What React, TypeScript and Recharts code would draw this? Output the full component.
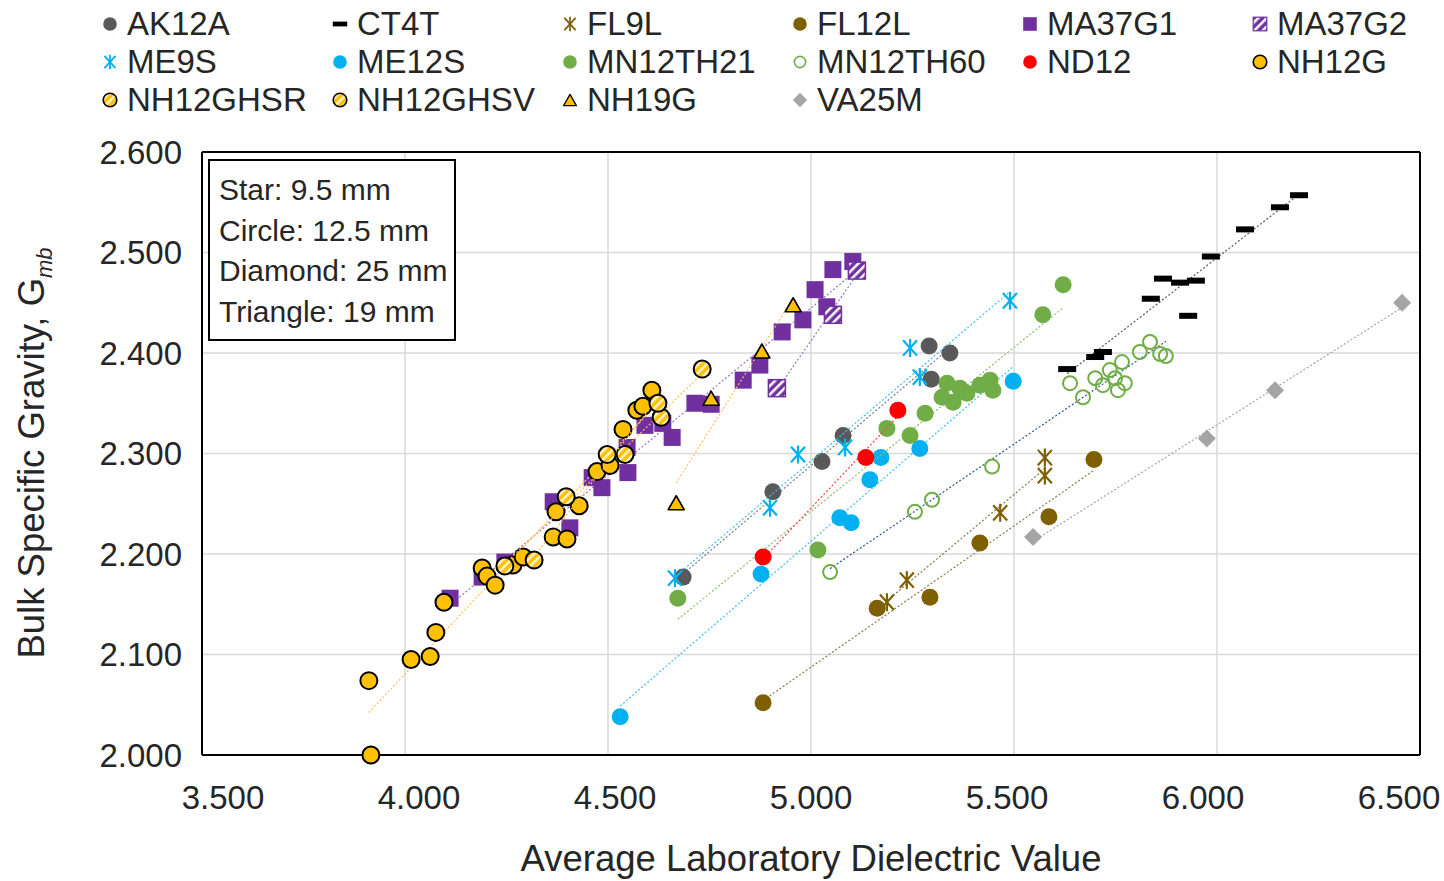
import React from 'react'
import { ScatterChart, Scatter, XAxis, YAxis, CartesianGrid, ReferenceLine } from 'recharts'

type Pt = [number, number]

const X_TICKS = [3.5, 4, 4.5, 5, 5.5, 6, 6.5]
const Y_TICKS = [2.0, 2.1, 2.2, 2.3, 2.4, 2.5, 2.6]

// [dielectric, Gmb]
const AK12A: Pt[] = [[4.685, 2.177], [4.906, 2.262], [5.027, 2.292], [5.079, 2.318], [5.291, 2.407], [5.342, 2.4], [5.296, 2.374]]
const CT4T: Pt[] = [[5.631, 2.384], [5.7, 2.396], [5.719, 2.401], [5.837, 2.454], [5.867, 2.474], [5.909, 2.47], [5.948, 2.472], [5.929, 2.437], [5.985, 2.496], [6.069, 2.523], [6.155, 2.545], [6.202, 2.557]]
const FL9L: Pt[] = [[5.187, 2.152], [5.236, 2.174], [5.466, 2.241], [5.576, 2.296], [5.576, 2.278]]
const FL12L: Pt[] = [[4.882, 2.052], [5.163, 2.146], [5.293, 2.157], [5.416, 2.211], [5.586, 2.237], [5.697, 2.294]]
const MA37G1: Pt[] = [[4.111, 2.156], [4.19, 2.177], [4.246, 2.192], [4.365, 2.252], [4.406, 2.226], [4.461, 2.276], [4.485, 2.266], [4.549, 2.281], [4.547, 2.306], [4.591, 2.328], [4.635, 2.33], [4.658, 2.316], [4.714, 2.35], [4.754, 2.349], [4.833, 2.373], [4.874, 2.388], [4.929, 2.421], [4.98, 2.433], [5.01, 2.463], [5.039, 2.446], [5.054, 2.483], [5.103, 2.491]]
const MA37G2: Pt[] = [[4.916, 2.365], [5.054, 2.438], [5.113, 2.482]]
const ME9S: Pt[] = [[4.665, 2.176], [4.899, 2.246], [4.968, 2.299], [5.084, 2.306], [5.244, 2.405], [5.268, 2.376], [5.49, 2.452]]
const ME12S: Pt[] = [[4.53, 2.038], [4.877, 2.18], [5.071, 2.236], [5.099, 2.231], [5.145, 2.274], [5.172, 2.296], [5.268, 2.305], [5.498, 2.372]]
const MN12TH21: Pt[] = [[4.672, 2.156], [5.017, 2.204], [5.187, 2.325], [5.244, 2.318], [5.281, 2.34], [5.323, 2.356], [5.335, 2.37], [5.35, 2.351], [5.367, 2.365], [5.384, 2.36], [5.416, 2.368], [5.441, 2.373], [5.448, 2.363], [5.571, 2.438], [5.621, 2.468]]
const MN12TH60: Pt[] = [[5.047, 2.182], [5.256, 2.242], [5.298, 2.254], [5.446, 2.287], [5.638, 2.37], [5.67, 2.356], [5.7, 2.375], [5.719, 2.368], [5.736, 2.383], [5.749, 2.375], [5.756, 2.363], [5.773, 2.37], [5.766, 2.391], [5.81, 2.401], [5.835, 2.411], [5.86, 2.399], [5.874, 2.397]]
const ND12: Pt[] = [[4.882, 2.197], [5.135, 2.296], [5.214, 2.343]]
const NH12G: Pt[] = [[3.911, 2.074], [3.916, 2.0], [4.015, 2.095], [4.062, 2.098], [4.076, 2.122], [4.096, 2.152], [4.19, 2.186], [4.202, 2.178], [4.222, 2.169], [4.266, 2.189], [4.291, 2.197], [4.365, 2.217], [4.399, 2.215], [4.372, 2.242], [4.429, 2.248], [4.473, 2.282], [4.505, 2.288], [4.537, 2.324], [4.571, 2.343], [4.586, 2.347], [4.608, 2.363]]
const NH12GHSR: Pt[] = [[4.246, 2.188], [4.397, 2.257], [4.542, 2.299], [4.631, 2.336], [4.732, 2.384]]
const NH12GHSV: Pt[] = [[4.318, 2.194], [4.498, 2.299], [4.623, 2.35]]
const NH19G: Pt[] = [[4.668, 2.251], [4.754, 2.355], [4.879, 2.402], [4.956, 2.448]]
const VA25M: Pt[] = [[5.547, 2.217], [5.975, 2.315], [6.143, 2.363], [6.456, 2.45]]

const NOTE_LINES = ['Star: 9.5 mm', 'Circle: 12.5 mm', 'Diamond: 25 mm', 'Triangle: 19 mm']

type Kind = 'circle' | 'ring' | 'dash' | 'star' | 'square' | 'triangle' | 'diamond'

interface SeriesDef {
  name: string
  data: Pt[]
  kind: Kind
  fill: string
  stroke?: string
  trend: string
}

const SERIES: SeriesDef[] = [
  { name: 'AK12A', data: AK12A, kind: 'circle', fill: '#595959', trend: '#7f7f7f' },
  { name: 'CT4T', data: CT4T, kind: 'dash', fill: '#000000', trend: '#595959' },
  { name: 'FL9L', data: FL9L, kind: 'star', fill: '#7f6000', trend: '#8c7a4a' },
  { name: 'FL12L', data: FL12L, kind: 'circle', fill: '#7f6000', trend: '#8c7a4a' },
  { name: 'MA37G1', data: MA37G1, kind: 'square', fill: '#7030a0', trend: '#9a70c0' },
  { name: 'MA37G2', data: MA37G2, kind: 'square', fill: 'url(#hatchPurple)', stroke: '#7030a0', trend: '#9a70c0' },
  { name: 'ME9S', data: ME9S, kind: 'star', fill: '#00b0f0', trend: '#40c0f0' },
  { name: 'ME12S', data: ME12S, kind: 'circle', fill: '#00b0f0', trend: '#40c0f0' },
  { name: 'MN12TH21', data: MN12TH21, kind: 'circle', fill: '#70ad47', trend: '#8fc06a' },
  { name: 'MN12TH60', data: MN12TH60, kind: 'ring', fill: 'none', stroke: '#70ad47', trend: '#2f5597' },
  { name: 'ND12', data: ND12, kind: 'circle', fill: '#ff0000', trend: '#ff4040' },
  { name: 'NH12G', data: NH12G, kind: 'circle', fill: '#ffc000', stroke: '#000000', trend: '#ffc060' },
  { name: 'NH12GHSR', data: NH12GHSR, kind: 'circle', fill: 'url(#hatchGold)', stroke: '#000000', trend: '#ffc060' },
  { name: 'NH12GHSV', data: NH12GHSV, kind: 'circle', fill: 'url(#hatchGold)', stroke: '#000000', trend: '#ffc060' },
  { name: 'NH19G', data: NH19G, kind: 'triangle', fill: '#ffc000', stroke: '#000000', trend: '#ffc060' },
  { name: 'VA25M', data: VA25M, kind: 'diamond', fill: '#a5a5a5', trend: '#a5a5a5' },
]

const TEXT = '#262626'
const FONT = "'Liberation Sans', Arial, sans-serif"

function Marker({ def, cx, cy, k = 1 }: { def: SeriesDef; cx: number; cy: number; k?: number }) {
  const { kind, fill, stroke } = def
  const sw = stroke ? 2 * k : 0
  switch (kind) {
    case 'circle':
      return <circle cx={cx} cy={cy} r={8.5 * k} fill={fill} stroke={stroke ?? 'none'} strokeWidth={sw} />
    case 'ring':
      return <circle cx={cx} cy={cy} r={7 * k} fill="none" stroke={stroke} strokeWidth={2 * k} />
    case 'dash':
      return <rect x={cx - 9 * k} y={cy - 3 * k} width={18 * k} height={6 * k} fill={fill} />
    case 'square':
      return <rect x={cx - 8.5 * k} y={cy - 8.5 * k} width={17 * k} height={17 * k} fill={fill} stroke={stroke ?? 'none'} strokeWidth={stroke ? 1.5 * k : 0} />
    case 'triangle': {
      const w = 8 * k
      const h = 7 * k
      return <polygon points={`${cx},${cy - h} ${cx + w},${cy + h} ${cx - w},${cy + h}`} fill={fill} stroke={stroke} strokeWidth={1.6 * k} strokeLinejoin="round" />
    }
    case 'diamond': {
      const d = 9 * k
      return <polygon points={`${cx},${cy - d} ${cx + d},${cy} ${cx},${cy + d} ${cx - d},${cy}`} fill={fill} />
    }
    case 'star': {
      const a = 7 * k
      const b = 9 * k
      return (
        <g stroke={fill} strokeWidth={2.2 * k}>
          <line x1={cx - a} y1={cy - b * 0.85} x2={cx + a} y2={cy + b * 0.85} />
          <line x1={cx - a} y1={cy + b * 0.85} x2={cx + a} y2={cy - b * 0.85} />
          <line x1={cx} y1={cy - b} x2={cx} y2={cy + b} />
        </g>
      )
    }
  }
  return null
}

const XTick = ({ x, y, payload }: any) => (
  <text x={x + (5 - payload.value) * 14} y={y} dy="0.71em" textAnchor="middle" fill={TEXT} fontSize={33}>
    {payload.value.toFixed(3)}
  </text>
)

const YTitle = () => (
  <text x={44} y={453} transform="rotate(-90 44 453)" textAnchor="middle" fontSize={36.5} fill={TEXT}>
    Bulk Specific Gravity, G
    <tspan fontSize={22} fontStyle="italic" dy={8}>mb</tspan>
  </text>
)

export default function App() {
  return (
    <div style={{ position: 'absolute', left: 0, top: 0, width: 1444, height: 881, overflow: 'hidden', fontFamily: FONT, background: '#fff' }}>
      <svg width={0} height={0} style={{ position: 'absolute' }}>
        <defs>
          <pattern id="hatchPurple" patternUnits="userSpaceOnUse" width={6} height={6} patternTransform="rotate(45)">
            <rect width={6} height={6} fill="#7030a0" />
            <rect width={2.5} height={6} fill="#ffffff" />
          </pattern>
          <pattern id="hatchGold" patternUnits="userSpaceOnUse" width={6} height={6} patternTransform="rotate(45)">
            <rect width={6} height={6} fill="#ffc000" />
            <rect width={2.5} height={6} fill="#fff2cc" />
          </pattern>
        </defs>
      </svg>

      <ScatterChart width={1444} height={881} margin={{ top: 152, right: 24, bottom: 0, left: 0 }}>
        <CartesianGrid stroke="#d9d9d9" strokeWidth={1.5} />
        <XAxis
          type="number"
          dataKey="x"
          domain={[3.5, 6.5]}
          ticks={X_TICKS}
          interval={0}
          height={126}
          axisLine={{ stroke: '#000', strokeWidth: 2 }}
          tickLine={false}
          tickMargin={25}
          tick={<XTick />}
          label={{ value: 'Average Laboratory Dielectric Value', position: 'insideBottom', offset: 10, fontSize: 36.5, fill: TEXT }}
        />
        <YAxis
          type="number"
          dataKey="y"
          domain={[2.0, 2.6]}
          ticks={Y_TICKS}
          interval={0}
          width={202}
          axisLine={{ stroke: '#000', strokeWidth: 2 }}
          tickLine={false}
          tickMargin={14}
          tick={{ fill: TEXT, fontSize: 33 }}
          tickFormatter={(v: number) => v.toFixed(3)}
          label={<YTitle />}
        />
        <ReferenceLine y={2.6} stroke="#000" strokeWidth={2} />
        <ReferenceLine x={6.5} stroke="#000" strokeWidth={2} />
        {SERIES.map((s) => (
          <Scatter
            key={s.name}
            name={s.name}
            data={s.data.map(([x, y]) => ({ x, y }))}
            line={{ stroke: s.trend, strokeWidth: 1.2, strokeDasharray: '2 2' }}
            lineType="fitting"
            shape={(p: any) => <Marker def={s} cx={p.cx} cy={p.cy} />}
            isAnimationActive={false}
          />
        ))}
      </ScatterChart>

      <div
        style={{
          position: 'absolute',
          left: 101,
          top: 5,
          display: 'grid',
          gridTemplateColumns: 'repeat(6, 230px)',
          gridAutoRows: '38px',
          fontSize: 33,
          color: TEXT,
        }}
      >
        {SERIES.map((s) => (
          <div key={s.name} style={{ display: 'flex', alignItems: 'center', whiteSpace: 'nowrap' }}>
            <svg width={18} height={18} style={{ marginRight: 8 }}>
              <Marker def={s} cx={9} cy={9} k={0.8} />
            </svg>
            <span>{s.name}</span>
          </div>
        ))}
      </div>

      <div
        style={{
          position: 'absolute',
          left: 208,
          top: 159,
          width: 248,
          height: 182,
          boxSizing: 'border-box',
          border: '2px solid #000',
          background: '#fff',
          padding: '9px 0 0 9px',
          fontSize: 30,
          lineHeight: '40.5px',
          color: TEXT,
        }}
      >
        {NOTE_LINES.map((t) => (
          <div key={t}>{t}</div>
        ))}
      </div>
    </div>
  )
}
